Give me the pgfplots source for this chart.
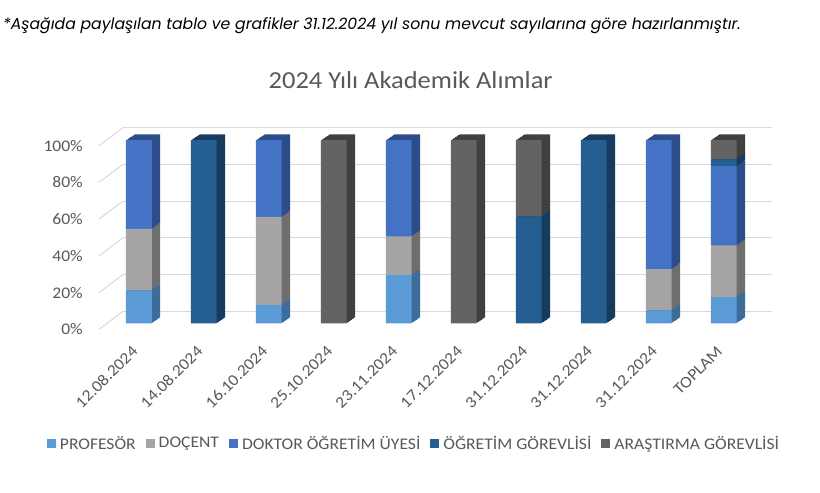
\documentclass[border=0pt]{standalone}
\usepackage{pgfplots}
\pgfplotsset{compat=1.18}
\usepackage{pgfplotstable}
\usepackage{fontspec}
\setmainfont{Carlito}[FakeStretch=1.085]
\newfontfamily\notefont{Poppins}
\definecolor{cP}{HTML}{5B9BD5}
\definecolor{cD}{HTML}{A5A5A5}
\definecolor{cU}{HTML}{4472C4}
\definecolor{cG}{HTML}{255E91}
\definecolor{cA}{HTML}{636363}
\definecolor{sP}{HTML}{3C6C99}
\definecolor{sD}{HTML}{6E6E6E}
\definecolor{sU}{HTML}{2D4D8A}
\definecolor{sG}{HTML}{173B5C}
\definecolor{sA}{HTML}{404040}
\definecolor{txt}{HTML}{595959}
\definecolor{gridc}{HTML}{D9D9D9}

\pgfplotstableread{
x P D U G A
0 18.0 33.5 48.5 0 0
1 0 0 0 100 0
2 10.0 48.0 42.0 0 0
3 0 0 0 0 100
4 26.3 21.1 52.6 0 0
5 0 0 0 0 100
6 0 0 0 58.3 41.7
7 0 0 0 100 0
8 7.0 22.5 70.5 0 0
9 14.3 28.2 43.2 3.7 10.6
}\datatable

\pgfplotsset{
  barbase/.style={scale only axis, width=649.85pt, height=183.3pt,
    xmin=-0.5, xmax=9.5, ymin=0, ymax=100, ybar stacked, bar width=25.8pt,
    anchor=south west, clip=false},
  sq/.style={legend image code/.code={\fill[##1] (0pt,-4.5pt) rectangle (9pt,4.5pt);}},
}

\begin{document}
\begin{tikzpicture}
\useasboundingbox[fill=white] (0,0) rectangle (820pt,-493pt);
\node[anchor=base west, inner sep=0pt, font=\notefont\itshape\fontsize{15.7}{18}\selectfont] at (3pt,-29pt) {*Aşağıda paylaşılan tablo ve grafikler 31.12.2024 yıl sonu mevcut sayılarına göre hazırlanmıştır.};
\node[anchor=base, inner sep=0pt, text=txt, font=\fontsize{24.4}{28}\selectfont] at (410.7pt,-88.3pt) {2024 Yılı Akademik Alımlar};

% back wall: gridlines, floor stubs, y tick labels
\begin{axis}[scale only axis, width=648.7pt, height=183.7pt, at={(123pt,-311.3pt)}, anchor=south west,
  xmin=0, xmax=1, ymin=0, ymax=100, axis line style={draw=none}, xtick=\empty,
  ytick={0,20,40,60,80,100}, ymajorgrids, grid style={draw=gridc, line width=1pt},
  major tick length=0pt, clip=false,
  yticklabel={\pgfmathprintnumber{\tick}\%},
  yticklabel style={anchor=east, inner sep=0pt, xshift=-40pt, yshift=-18pt, text=txt, font=\fontsize{16.2}{19}\selectfont},
  /pgf/number format/assume math mode=true]
\pgfplotsinvokeforeach{0,20,40,60,80,100}{\draw[draw=gridc, line width=1pt] (axis cs:0,#1) -- ++(-24pt,-18pt);}
\end{axis}

% depth (side and top faces)
\foreach \t in {8,7,...,1}{
\begin{axis}[barbase, hide axis, at={(106.36pt+\t*1.05pt, -323.3pt+\t*0.7pt)}]
\addplot[fill=sP, draw=none] table[x=x,y=P]{\datatable};
\addplot[fill=sD, draw=none] table[x=x,y=D]{\datatable};
\addplot[fill=sU, draw=none] table[x=x,y=U]{\datatable};
\addplot[fill=sG, draw=none] table[x=x,y=G]{\datatable};
\addplot[fill=sA, draw=none] table[x=x,y=A]{\datatable};
\end{axis}
}

% front faces
\begin{axis}[barbase, at={(106.36pt,-323.3pt)},
  axis line style={draw=none}, ytick=\empty, xtick=data,
  xticklabels={12.08.2024,14.08.2024,16.10.2024,25.10.2024,23.11.2024,17.12.2024,31.12.2024,31.12.2024,31.12.2024,TOPLAM},
  major tick length=0pt,
  xticklabel style={xshift=-4pt, yshift=-25.3pt, rotate=45, anchor=east, inner sep=0pt, text=txt, font=\fontsize{16.2}{19}\selectfont},
  legend columns=-1,
  legend style={at={(0.475,-0.6547)}, anchor=center, draw=none, fill=none, font=\fontsize{16.2}{19}\selectfont, text=txt,
     nodes={inner xsep=4pt, inner ysep=1pt},
     /tikz/every even column/.append style={column sep=6pt}},
  sq]
\addplot[fill=cP, draw=none, sq] table[x=x,y=P]{\datatable};
\addplot[fill=cD, draw=none, sq] table[x=x,y=D]{\datatable};
\addplot[fill=cU, draw=none, sq] table[x=x,y=U]{\datatable};
\addplot[fill=cG, draw=none, sq] table[x=x,y=G]{\datatable};
\addplot[fill=cA, draw=none, sq] table[x=x,y=A]{\datatable};
\legend{PROFESÖR, DOÇENT, DOKTOR ÖĞRETİM ÜYESİ, ÖĞRETİM GÖREVLİSİ, ARAŞTIRMA GÖREVLİSİ}
\end{axis}
\end{tikzpicture}
\end{document}
